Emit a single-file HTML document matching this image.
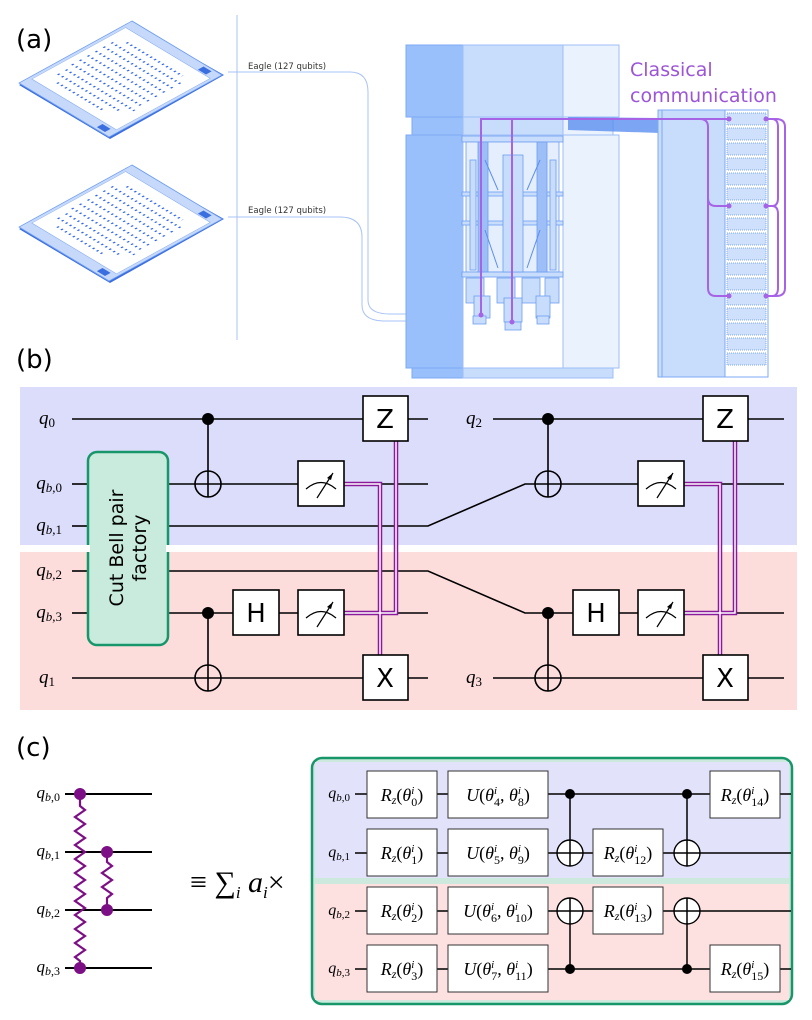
<!DOCTYPE html>
<html><head><meta charset="utf-8"><style>
html,body{margin:0;padding:0;background:#fff;}
svg{display:block;}
.m{font-family:"Liberation Serif",serif;font-style:italic;}
.s{font-family:"DejaVu Sans","Liberation Sans",sans-serif;}
</style></head><body>
<svg width="812" height="1020" viewBox="0 0 812 1020" xmlns="http://www.w3.org/2000/svg">
<defs>
<g id="chip">
  <polygon points="19,85 132,23 224,75 110,139" fill="#3b6fe0"/>
  <g transform="matrix(1.13,-0.62,0.90,0.54,19,83)">
    <rect x="0" y="0" width="100" height="100" fill="#c6d9fb" stroke="#6f9ef0" stroke-width="0.8"/>
    <rect x="9" y="3" width="83" height="94" fill="#fff" stroke="#8fb3f3" stroke-width="0.6"/>
    <rect x="93" y="82" width="5" height="9" fill="#3b6fe0"/>
    <rect x="2" y="84" width="5" height="9" fill="#3b6fe0"/>
    <g stroke="#2f66e8" stroke-width="1.8" stroke-dasharray="1.4 3">
      <line x1="18" y1="20" x2="18" y2="70"/>
      <line x1="25" y1="12" x2="25" y2="80"/>
      <line x1="32" y1="12" x2="32" y2="88"/>
      <line x1="39" y1="10" x2="39" y2="88"/>
      <line x1="46" y1="10" x2="46" y2="88"/>
      <line x1="53" y1="10" x2="53" y2="88"/>
      <line x1="60" y1="10" x2="60" y2="88"/>
      <line x1="67" y1="10" x2="67" y2="88"/>
      <line x1="74" y1="10" x2="74" y2="88"/>
      <line x1="81" y1="18" x2="81" y2="80"/>
    </g>
  </g>
</g>
</defs>

<!-- (a) -->
<text x="16" y="48" font-family="DejaVu Sans,sans-serif" font-size="26">(a)</text>
<use href="#chip"/>
<use href="#chip" transform="translate(0,144)"/>
<line x1="237" y1="15" x2="237" y2="340" stroke="#a9c3f5" stroke-width="1"/>
<text x="248" y="69" class="s" font-size="8.5" fill="#333">Eagle (127 qubits)</text>
<text x="248" y="213" class="s" font-size="8.5" fill="#333">Eagle (127 qubits)</text>
<path d="M228,72 H350 Q368,72 368,92 V300 Q368,314 390,314 H478" fill="none" stroke="#a9c3f5" stroke-width="1"/>
<path d="M228,217 H340 Q362,217 362,237 V305 Q362,321 385,321 H508" fill="none" stroke="#a9c3f5" stroke-width="1"/>

<!-- fridge -->
<rect x="406" y="45" width="57" height="72" fill="#99c0fb" stroke="#7eaaf5"/>
<rect x="463" y="45" width="100" height="72" fill="#c8dcfb" stroke="#9dbef7"/>
<rect x="563" y="45" width="56" height="72" fill="#eaf2fe" stroke="#9dbef7"/>
<rect x="412" y="117" width="51" height="18" fill="#99c0fb" stroke="#7eaaf5"/>
<rect x="463" y="117" width="100" height="18" fill="#c8dcfb" stroke="#9dbef7"/>
<rect x="563" y="117" width="50" height="18" fill="#eaf2fe" stroke="#9dbef7"/>
<rect x="406" y="135" width="57" height="233" fill="#99c0fb" stroke="#7eaaf5"/>
<rect x="463" y="135" width="100" height="233" fill="#fff" stroke="#9dbef7"/>
<rect x="563" y="135" width="56" height="233" fill="#eaf2fe" stroke="#9dbef7"/>
<rect x="412" y="368" width="51" height="10" fill="#99c0fb" stroke="#7eaaf5"/>
<rect x="463" y="368" width="150" height="10" fill="#c8dcfb" stroke="#9dbef7"/>
<polygon points="568,117 660,118 660,133 568,130" fill="#5b8ff0" opacity="0.8"/>
<g fill="#c8dcfb" stroke="#6f9ef0" stroke-width="0.8">
  <rect x="462" y="136" width="101" height="6"/>
  <rect x="466" y="142" width="93" height="130" fill="#e4eefd"/>
  <rect x="462" y="192" width="101" height="4"/>
  <rect x="462" y="221" width="101" height="4"/>
  <rect x="462" y="272" width="101" height="5"/>
  <rect x="478" y="142" width="10" height="130" fill="#9dbef7"/>
  <rect x="503" y="155" width="20" height="117"/>
  <rect x="537" y="142" width="10" height="130" fill="#9dbef7"/>
  <rect x="470" y="160" width="6" height="110"/>
  <rect x="550" y="160" width="6" height="110"/>
  <rect x="466" y="278" width="18" height="25"/>
  <rect x="497" y="278" width="18" height="25"/>
  <rect x="522" y="278" width="18" height="25"/>
  <rect x="545" y="278" width="14" height="25"/>
  <rect x="474" y="296" width="16" height="22"/>
  <rect x="504" y="298" width="18" height="24"/>
  <rect x="536" y="296" width="14" height="22"/>
  <rect x="473" y="316" width="13" height="8"/>
  <rect x="505" y="322" width="16" height="8"/>
  <rect x="537" y="316" width="12" height="8"/>
</g>
<g stroke="#5b8ff0" stroke-width="1">
  <line x1="485" y1="160" x2="498" y2="190"/><line x1="540" y1="160" x2="527" y2="190"/>
  <line x1="485" y1="230" x2="498" y2="268"/><line x1="540" y1="230" x2="527" y2="268"/>
</g>
<!-- rack -->
<rect x="658" y="110" width="67" height="267" fill="#c8dcfb" stroke="#7eaaf5"/>
<line x1="662" y1="110" x2="662" y2="377" stroke="#7eaaf5"/>
<rect x="725" y="110" width="43" height="267" fill="#fff" stroke="#7eaaf5"/>
<g fill="#cfe0fc" stroke="#5b8ff0" stroke-width="0.7" stroke-dasharray="1 1">
  <rect x="727" y="113" width="39" height="12"/><rect x="727" y="128" width="39" height="12"/>
  <rect x="727" y="143" width="39" height="12"/><rect x="727" y="158" width="39" height="12"/>
  <rect x="727" y="173" width="39" height="12"/><rect x="727" y="188" width="39" height="12"/>
  <rect x="727" y="203" width="39" height="12"/><rect x="727" y="218" width="39" height="12"/>
  <rect x="727" y="233" width="39" height="12"/><rect x="727" y="248" width="39" height="12"/>
  <rect x="727" y="263" width="39" height="12"/><rect x="727" y="278" width="39" height="12"/>
  <rect x="727" y="293" width="39" height="12"/><rect x="727" y="308" width="39" height="12"/>
  <rect x="727" y="323" width="39" height="12"/><rect x="727" y="338" width="39" height="12"/>
  <rect x="727" y="353" width="39" height="12"/>
</g>
<text x="630" y="76" class="s" font-size="19" fill="#9b55d6">Classical</text>
<text x="630" y="102" class="s" font-size="19" fill="#9b55d6">communication</text>
<g fill="none" stroke="#a763e6" stroke-width="2">
  <path d="M481,315 V119 H729"/>
  <path d="M512,322 V119"/>
  <path d="M700,119 Q708,119 708,127 V288 Q708,296 716,296 H729"/>
  <path d="M708,198 Q708,206 716,206 H729"/>
  <path d="M766,119 H776 Q785,119 785,127 V288 Q785,296 776,296 H766"/>
  <path d="M766,119 H772 Q778,119 778,127 V198 Q778,206 772,206 H766 M772,206 Q778,206 778,214 V288 Q778,296 772,296"/>
</g>
<g fill="#a763e6"><circle cx="729" cy="119" r="2.5"/><circle cx="729" cy="206" r="2.5"/><circle cx="729" cy="296" r="2.5"/><circle cx="766" cy="119" r="2.5"/><circle cx="766" cy="206" r="2.5"/><circle cx="766" cy="296" r="2.5"/><circle cx="481" cy="315" r="2.5"/><circle cx="512" cy="322" r="2.5"/></g>

<!-- (b) -->
<text x="16" y="368" font-family="DejaVu Sans,sans-serif" font-size="26">(b)</text>
<rect x="20" y="387" width="777" height="158" fill="#dcdcfb"/>
<rect x="20" y="552" width="777" height="158" fill="#fddcdc"/>
<g stroke="#000" stroke-width="1.6" fill="none">
  <line x1="72" y1="419" x2="428" y2="419"/>
  <line x1="72" y1="484" x2="88" y2="484"/><line x1="168" y1="484" x2="428" y2="484"/>
  <line x1="72" y1="526" x2="88" y2="526"/><polyline points="168,526 428,526 525,484 784,484"/>
  <line x1="72" y1="571" x2="88" y2="571"/><polyline points="168,571 428,571 525,613 784,613"/>
  <line x1="72" y1="613" x2="88" y2="613"/><line x1="168" y1="613" x2="428" y2="613"/>
  <line x1="72" y1="678" x2="428" y2="678"/>
  <line x1="493" y1="419" x2="784" y2="419"/>
  <line x1="493" y1="678" x2="784" y2="678"/>
  <line x1="208" y1="419" x2="208" y2="497"/>
  <line x1="208" y1="613" x2="208" y2="691"/>
  <line x1="548" y1="419" x2="548" y2="497"/>
  <line x1="548" y1="613" x2="548" y2="691"/>
  <circle cx="208" cy="484" r="13"/><circle cx="208" cy="678" r="13"/>
  <circle cx="548" cy="484" r="13"/><circle cx="548" cy="678" r="13"/>
</g>
<g fill="#000"><circle cx="208" cy="419" r="6"/><circle cx="208" cy="613" r="6"/><circle cx="548" cy="419" r="6"/><circle cx="548" cy="613" r="6"/></g>
<g fill="none">
  <path d="M344,484 H380 V655 M344,613 H396 V441 M684,484 H720 V655 M684,613 H735 V441" stroke="#8a1a9b" stroke-width="4.5"/>
  <path d="M344,484 H380 V655 M344,613 H396 V441 M684,484 H720 V655 M684,613 H735 V441" stroke="#fff" stroke-width="1.5"/>
</g>
<rect x="88" y="452" width="80" height="193" rx="9" fill="#c9ebdd" stroke="#17966a" stroke-width="2.5"/>
<rect x="86" y="545" width="84" height="7" fill="#fff"/>
<rect x="90" y="545" width="76" height="7" fill="#c9ebdd"/>
<text transform="translate(123,548) rotate(-90)" text-anchor="middle" class="s" font-size="19">Cut Bell pair</text>
<text transform="translate(146,548) rotate(-90)" text-anchor="middle" class="s" font-size="19">factory</text>
<g fill="#fff" stroke="#000" stroke-width="1.6">
  <rect x="363" y="396" width="45" height="45"/><rect x="363" y="655" width="45" height="45"/>
  <rect x="298" y="461" width="46" height="45"/><rect x="298" y="590" width="46" height="45"/>
  <rect x="233" y="590" width="46" height="45"/>
  <rect x="703" y="396" width="45" height="45"/><rect x="703" y="655" width="45" height="45"/>
  <rect x="638" y="461" width="46" height="45"/><rect x="638" y="590" width="46" height="45"/>
  <rect x="573" y="590" width="46" height="45"/>
</g>
<g fill="none" stroke="#000" stroke-width="1.2">
  <path d="M306,489 Q321,476 336,489 M317,498 L333,473"/>
  <path d="M306,618 Q321,605 336,618 M317,627 L333,602"/>
  <path d="M646,489 Q661,476 676,489 M657,498 L673,473"/>
  <path d="M646,618 Q661,605 676,618 M657,627 L673,602"/>
</g>
<g fill="#000"><polygon points="333,473 327,478 331,480"/><polygon points="333,602 327,607 331,609"/><polygon points="673,473 667,478 671,480"/><polygon points="673,602 667,607 671,609"/></g>
<g class="s" font-size="26" text-anchor="middle">
  <text x="385" y="428">Z</text><text x="385" y="687">X</text><text x="256" y="622">H</text>
  <text x="725" y="428">Z</text><text x="725" y="687">X</text><text x="596" y="622">H</text>
</g>
<g class="m" font-size="19" text-anchor="end">
  <text x="55" y="424">q<tspan font-size="13" font-style="normal" dy="3">0</tspan></text>
  <text x="62" y="489">q<tspan font-size="13" dy="3">b</tspan><tspan font-size="13" font-style="normal">,0</tspan></text>
  <text x="62" y="531">q<tspan font-size="13" dy="3">b</tspan><tspan font-size="13" font-style="normal">,1</tspan></text>
  <text x="62" y="576">q<tspan font-size="13" dy="3">b</tspan><tspan font-size="13" font-style="normal">,2</tspan></text>
  <text x="62" y="618">q<tspan font-size="13" dy="3">b</tspan><tspan font-size="13" font-style="normal">,3</tspan></text>
  <text x="55" y="683">q<tspan font-size="13" font-style="normal" dy="3">1</tspan></text>
  <text x="482" y="424">q<tspan font-size="13" font-style="normal" dy="3">2</tspan></text>
  <text x="482" y="683">q<tspan font-size="13" font-style="normal" dy="3">3</tspan></text>
</g>

<!-- (c) -->
<text x="16" y="756" font-family="DejaVu Sans,sans-serif" font-size="26">(c)</text>
<g stroke="#000" stroke-width="2">
  <line x1="65" y1="794" x2="152" y2="794"/><line x1="65" y1="852" x2="152" y2="852"/>
  <line x1="65" y1="910" x2="152" y2="910"/><line x1="65" y1="968" x2="152" y2="968"/>
</g>
<g fill="none" stroke="#7d0f86" stroke-width="2.2">
  <path d="M80,794 V806 L85,810 L75,817 L85,824 L75,831 L85,838 L75,845 L85,852 L75,859 L85,866 L75,873 L85,880 L75,887 L85,894 L75,901 L85,908 L75,915 L85,922 L75,929 L85,936 L75,943 L85,950 L75,957 L80,961 V968"/>
  <path d="M107,852 V862 L112,866 L102,873 L112,880 L102,887 L112,894 L107,898 V910"/>
</g>
<g fill="#7d0f86"><circle cx="80" cy="794" r="6"/><circle cx="80" cy="968" r="6"/><circle cx="107" cy="852" r="6"/><circle cx="107" cy="910" r="6"/></g>
<g class="m" font-size="17" text-anchor="end">
  <text x="60" y="798">q<tspan font-size="12" dy="3">b</tspan><tspan font-size="12" font-style="normal">,0</tspan></text>
  <text x="60" y="856">q<tspan font-size="12" dy="3">b</tspan><tspan font-size="12" font-style="normal">,1</tspan></text>
  <text x="60" y="914">q<tspan font-size="12" dy="3">b</tspan><tspan font-size="12" font-style="normal">,2</tspan></text>
  <text x="60" y="972">q<tspan font-size="12" dy="3">b</tspan><tspan font-size="12" font-style="normal">,3</tspan></text>
</g>
<text x="190" y="892" font-family="Liberation Serif,serif" font-size="30">≡ ∑<tspan font-size="17" font-style="italic" dy="6">i</tspan><tspan dy="-6" font-style="italic"> a</tspan><tspan font-size="17" font-style="italic" dy="6">i</tspan><tspan dy="-6">×</tspan></text>

<rect x="312" y="758" width="480" height="246" rx="10" fill="#cde9de" stroke="#17966a" stroke-width="2.5"/>
<rect x="315" y="762" width="474" height="116" fill="#e2e2fb"/>
<rect x="315" y="884" width="474" height="116" fill="#fde0e0"/>
<g stroke="#000" stroke-width="1.6">
  <line x1="355" y1="794" x2="791" y2="794"/><line x1="355" y1="853" x2="791" y2="853"/>
  <line x1="355" y1="911" x2="791" y2="911"/><line x1="355" y1="969" x2="791" y2="969"/>
</g>
<g fill="#fff" stroke="#000" stroke-width="1.4">
  <circle cx="570" cy="853" r="13"/><circle cx="687" cy="853" r="13"/>
  <circle cx="570" cy="911" r="13"/><circle cx="687" cy="911" r="13"/>
</g>
<g stroke="#000" stroke-width="1.5">
  <line x1="557" y1="853" x2="583" y2="853"/><line x1="674" y1="853" x2="700" y2="853"/><line x1="557" y1="911" x2="583" y2="911"/><line x1="674" y1="911" x2="700" y2="911"/>
  <line x1="570" y1="794" x2="570" y2="866"/><line x1="570" y1="898" x2="570" y2="969"/>
  <line x1="687" y1="794" x2="687" y2="866"/><line x1="687" y1="898" x2="687" y2="969"/>
</g>
<g fill="#000"><circle cx="570" cy="794" r="5"/><circle cx="687" cy="794" r="5"/><circle cx="570" cy="969" r="5"/><circle cx="687" cy="969" r="5"/></g>
<g fill="#fff" stroke="#333" stroke-width="1">
  <rect x="367" y="771" width="70" height="47"/><rect x="367" y="829" width="70" height="47"/>
  <rect x="367" y="887" width="70" height="47"/><rect x="367" y="945" width="70" height="47"/>
  <rect x="448" y="771" width="100" height="47"/><rect x="448" y="829" width="100" height="47"/>
  <rect x="448" y="887" width="100" height="47"/><rect x="448" y="945" width="100" height="47"/>
  <rect x="593" y="829" width="70" height="47"/><rect x="593" y="887" width="70" height="47"/>
  <rect x="710" y="771" width="70" height="47"/><rect x="710" y="945" width="70" height="47"/>
</g>
<g class="m" font-size="18" text-anchor="middle">
  <text x="402" y="801">R<tspan font-size="12" dy="3">z</tspan><tspan dy="-3" font-style="normal">(</tspan>θ<tspan font-size="11" dy="-7">i</tspan><tspan font-size="12" font-style="normal" dx="-3" dy="12">0</tspan><tspan dy="-5" font-style="normal">)</tspan></text>
  <text x="402" y="859">R<tspan font-size="12" dy="3">z</tspan><tspan dy="-3" font-style="normal">(</tspan>θ<tspan font-size="11" dy="-7">i</tspan><tspan font-size="12" font-style="normal" dx="-3" dy="12">1</tspan><tspan dy="-5" font-style="normal">)</tspan></text>
  <text x="402" y="917">R<tspan font-size="12" dy="3">z</tspan><tspan dy="-3" font-style="normal">(</tspan>θ<tspan font-size="11" dy="-7">i</tspan><tspan font-size="12" font-style="normal" dx="-3" dy="12">2</tspan><tspan dy="-5" font-style="normal">)</tspan></text>
  <text x="402" y="975">R<tspan font-size="12" dy="3">z</tspan><tspan dy="-3" font-style="normal">(</tspan>θ<tspan font-size="11" dy="-7">i</tspan><tspan font-size="12" font-style="normal" dx="-3" dy="12">3</tspan><tspan dy="-5" font-style="normal">)</tspan></text>
  <text x="498" y="801">U<tspan font-style="normal">(</tspan>θ<tspan font-size="11" dy="-7">i</tspan><tspan font-size="12" font-style="normal" dx="-3" dy="12">4</tspan><tspan dy="-5" font-style="normal">, </tspan>θ<tspan font-size="11" dy="-7">i</tspan><tspan font-size="12" font-style="normal" dx="-3" dy="12">8</tspan><tspan dy="-5" font-style="normal">)</tspan></text>
  <text x="498" y="859">U<tspan font-style="normal">(</tspan>θ<tspan font-size="11" dy="-7">i</tspan><tspan font-size="12" font-style="normal" dx="-3" dy="12">5</tspan><tspan dy="-5" font-style="normal">, </tspan>θ<tspan font-size="11" dy="-7">i</tspan><tspan font-size="12" font-style="normal" dx="-3" dy="12">9</tspan><tspan dy="-5" font-style="normal">)</tspan></text>
  <text x="498" y="917">U<tspan font-style="normal">(</tspan>θ<tspan font-size="11" dy="-7">i</tspan><tspan font-size="12" font-style="normal" dx="-3" dy="12">6</tspan><tspan dy="-5" font-style="normal">, </tspan>θ<tspan font-size="11" dy="-7">i</tspan><tspan font-size="12" font-style="normal" dx="-3" dy="12">10</tspan><tspan dy="-5" font-style="normal">)</tspan></text>
  <text x="498" y="975">U<tspan font-style="normal">(</tspan>θ<tspan font-size="11" dy="-7">i</tspan><tspan font-size="12" font-style="normal" dx="-3" dy="12">7</tspan><tspan dy="-5" font-style="normal">, </tspan>θ<tspan font-size="11" dy="-7">i</tspan><tspan font-size="12" font-style="normal" dx="-3" dy="12">11</tspan><tspan dy="-5" font-style="normal">)</tspan></text>
  <text x="628" y="859">R<tspan font-size="12" dy="3">z</tspan><tspan dy="-3" font-style="normal">(</tspan>θ<tspan font-size="11" dy="-7">i</tspan><tspan font-size="12" font-style="normal" dx="-3" dy="12">12</tspan><tspan dy="-5" font-style="normal">)</tspan></text>
  <text x="628" y="917">R<tspan font-size="12" dy="3">z</tspan><tspan dy="-3" font-style="normal">(</tspan>θ<tspan font-size="11" dy="-7">i</tspan><tspan font-size="12" font-style="normal" dx="-3" dy="12">13</tspan><tspan dy="-5" font-style="normal">)</tspan></text>
  <text x="745" y="801">R<tspan font-size="12" dy="3">z</tspan><tspan dy="-3" font-style="normal">(</tspan>θ<tspan font-size="11" dy="-7">i</tspan><tspan font-size="12" font-style="normal" dx="-3" dy="12">14</tspan><tspan dy="-5" font-style="normal">)</tspan></text>
  <text x="745" y="975">R<tspan font-size="12" dy="3">z</tspan><tspan dy="-3" font-style="normal">(</tspan>θ<tspan font-size="11" dy="-7">i</tspan><tspan font-size="12" font-style="normal" dx="-3" dy="12">15</tspan><tspan dy="-5" font-style="normal">)</tspan></text>
</g>
<g class="m" font-size="16" text-anchor="end">
  <text x="350" y="798">q<tspan font-size="11" dy="3">b</tspan><tspan font-size="11" font-style="normal">,0</tspan></text>
  <text x="350" y="857">q<tspan font-size="11" dy="3">b</tspan><tspan font-size="11" font-style="normal">,1</tspan></text>
  <text x="350" y="915">q<tspan font-size="11" dy="3">b</tspan><tspan font-size="11" font-style="normal">,2</tspan></text>
  <text x="350" y="973">q<tspan font-size="11" dy="3">b</tspan><tspan font-size="11" font-style="normal">,3</tspan></text>
</g>
</svg>
</body></html>
